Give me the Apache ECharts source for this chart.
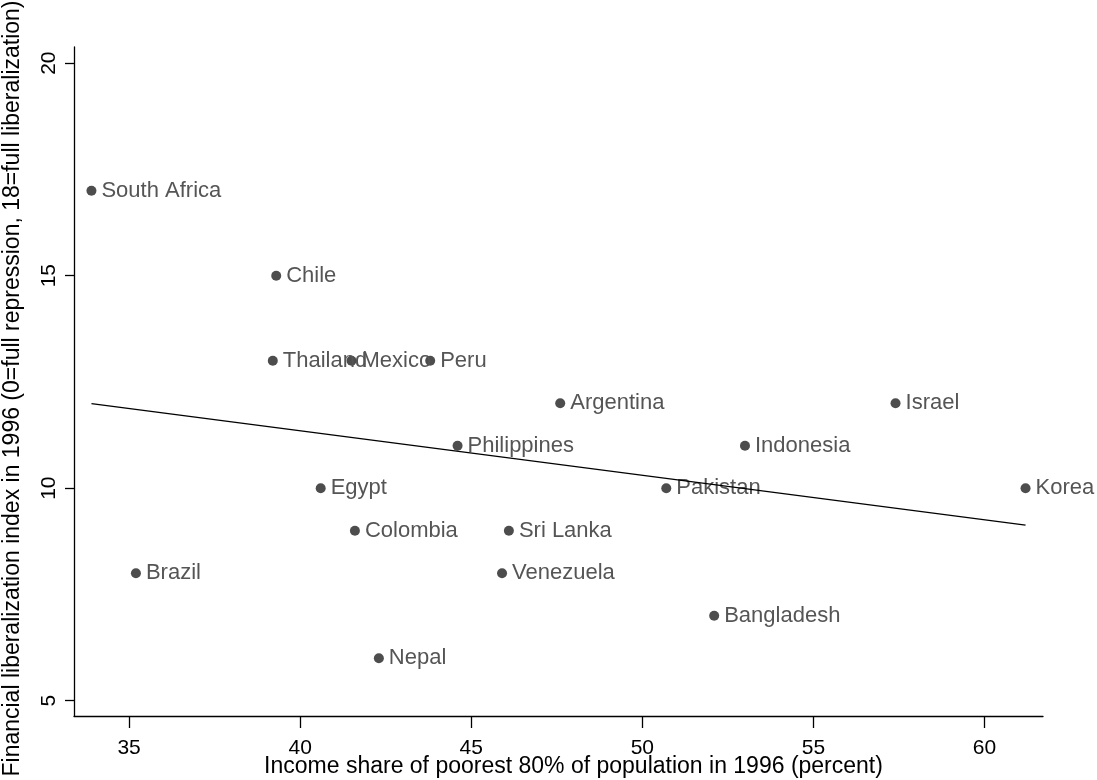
<!DOCTYPE html>
<html><head><meta charset="utf-8">
<script src="https://cdn.jsdelivr.net/npm/echarts@6/dist/echarts.min.js"></script>
<style>html,body{margin:0;padding:0;background:#fff}#c{width:1097px;height:780px}</style>
</head><body><div id="c"></div>
<script>
const countries = ['South Africa','Brazil','Thailand','Chile','Egypt','Mexico','Colombia','Nepal','Peru','Philippines','Venezuela','Sri Lanka','Argentina','Pakistan','Bangladesh','Indonesia','Israel','Korea'];
const incomeShare = [33.9, 35.2, 39.2, 39.3, 40.6, 41.5, 41.6, 42.3, 43.8, 44.6, 45.9, 46.1, 47.6, 50.7, 52.1, 53.0, 57.4, 61.2];
const finLibIndex = [17, 8, 13, 15, 10, 13, 9, 6, 13, 11, 8, 9, 12, 10, 7, 11, 12, 10];
const fitX = [33.9, 61.2];
const fitY = [11.99, 9.13];
const xTicks = [35, 40, 45, 50, 55, 60];
const yTicks = [5, 10, 15, 20];
const xTitle = 'Income share of poorest 80% of population in 1996 (percent)';
const yTitle = 'Financial liberalization index in 1996 (0=full repression, 18=full liberalization)';

const FONT = '"Liberation Sans", Arial, Helvetica, sans-serif';
const chart = echarts.init(document.getElementById('c'), null, {renderer: 'canvas'});
const pts = countries.map((n, i) => ({name: n, value: [incomeShare[i], finLibIndex[i]]}));
const fit = fitX.map((x, i) => [x, fitY[i]]);

chart.setOption({
  animation: false,
  backgroundColor: '#ffffff',
  grid: {left: 74, right: 54, top: 47, bottom: 64, containLabel: false, outerBoundsMode: 'none'},
  xAxis: {
    type: 'value', min: 33.39, max: 61.71,
    name: xTitle, nameLocation: 'middle', nameGap: 39, nameMoveOverlap: false,
    nameTextStyle: {fontFamily: FONT, fontSize: 23, color: '#000', padding: [0, 0, 0, 30]},
    axisLine: {show: true, onZero: false, lineStyle: {color: '#000', width: 1.3}},
    axisTick: {show: true, length: 12, customValues: xTicks, lineStyle: {color: '#000', width: 1.3}},
    axisLabel: {customValues: xTicks, margin: 22, fontFamily: FONT, fontSize: 21, color: '#000'},
    splitLine: {show: false}
  },
  yAxis: {
    type: 'value', min: 4.64, max: 20.38,
    name: yTitle, nameLocation: 'middle', nameGap: 50, nameRotate: 90, nameMoveOverlap: false,
    nameTextStyle: {fontFamily: FONT, fontSize: 23, color: '#000', padding: [0, 14, 0, 0]},
    axisLine: {show: true, onZero: false, lineStyle: {color: '#000', width: 1.3}},
    axisTick: {show: true, length: 9, customValues: yTicks, lineStyle: {color: '#000', width: 1.3}},
    axisLabel: {customValues: yTicks, rotate: 90, margin: 14, fontFamily: FONT, fontSize: 21, color: '#000'},
    splitLine: {show: false}
  },
  series: [
    {
      type: 'scatter', data: pts, symbol: 'circle', symbolSize: 10, z: 2,
      itemStyle: {color: '#4d4d4d', opacity: 1},
      label: {show: true, position: 'right', distance: 5, formatter: p => p.name,
        fontFamily: FONT, fontSize: 22, color: '#555555', opacity: 1}
    },
    {
      type: 'line', data: fit, symbol: 'none', z: 5, silent: true,
      lineStyle: {color: '#000', width: 1.3}
    }
  ]
});
</script>
</body></html>
